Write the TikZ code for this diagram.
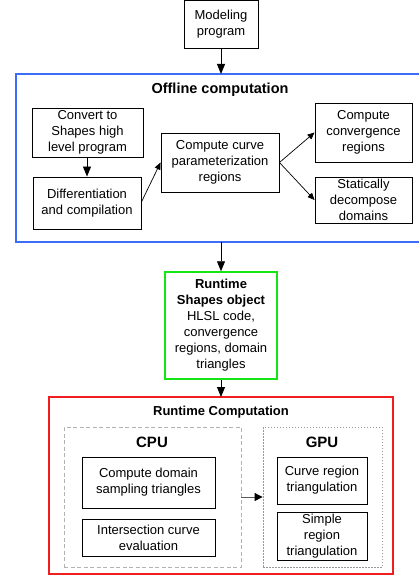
\documentclass[tikz,border=0pt]{standalone}
\usepackage{fontspec}
\setmainfont{Liberation Sans}
\usetikzlibrary{arrows.meta}
\definecolor{offblue}{RGB}{60,110,250}
\definecolor{rtgreen}{RGB}{20,230,20}
\definecolor{rtred}{RGB}{240,30,30}
\begin{document}
\begin{tikzpicture}[x=1pt,y=-1pt,
  box/.style={draw=black,line width=0.9pt,align=center,inner sep=0pt,font=\fontsize{13}{16}\selectfont},
  arr/.style={-{Triangle[length=10pt,width=8pt]},line width=0.9pt},
  sarr/.style={-{Triangle[length=7pt,width=6pt]},line width=0.7pt}]
\useasboundingbox (0,0) rectangle (419,577);
% Modeling program
\node[box,minimum width=74pt,minimum height=48pt] (mod) at (221,24.5) {Modeling\\program};
% Offline computation
\draw[offblue,line width=1.5pt] (16,74) rectangle (422,242);
\coordinate (offtop) at (221,74);
\coordinate (offbot) at (221,242);
\node[font=\bfseries\fontsize{14.5}{17}\selectfont] (offt) at (220,89.5) {Offline computation};
\node[box,minimum width=111pt,minimum height=49pt] (conv) at (87.5,132.5) {Convert to\\Shapes high\\level program};
\node[box,minimum width=108pt,minimum height=52pt] (diff) at (87,203) {Differentiation\\and compilation};
\node[box,minimum width=118pt,minimum height=59pt] (curve) at (220,162.5) {Compute curve\\parameterization\\regions};
\node[box,minimum width=97pt,minimum height=59pt] (cconv) at (363.5,132.5) {Compute\\convergence\\regions};
\node[box,minimum width=97pt,minimum height=46pt] (stat) at (363.5,200) {Statically\\decompose\\domains};
\draw[arr] (conv.south -| 87,0) -- (diff.north -| 87,0);
\draw[sarr] (diff.east) ++(0,-1) -- (curve.west);
\draw[sarr] (curve.east) -- (cconv.west);
\draw[sarr] (curve.east) -- (stat.west);
\draw[arr] (mod.south) -- (offtop);
% Runtime shapes object
\node[box,draw=rtgreen,line width=1.5pt,minimum width=112pt,minimum height=107pt] (rso) at (221,325.5) {\textbf{Runtime}\\\textbf{Shapes object}\\HLSL code,\\convergence\\regions, domain\\triangles};
\draw[arr] (offbot) -- (rso.north);
% Runtime computation
\draw[rtred,line width=1.5pt] (49,397) rectangle (393,574);
\coordinate (rctop) at (221,397);
\draw[arr] (rso.south) -- (rctop);
\node[font=\bfseries\fontsize{13}{16}\selectfont] (rct) at (221,412) {Runtime Computation};
\node[draw=black!30,dash pattern=on 4pt off 2.5pt,line width=0.9pt,minimum width=177pt,minimum height=140pt,inner sep=0pt] (cpu) at (152.5,497) {};
\node[draw=black!40,dash pattern=on 1.5pt off 1.5pt,line width=0.8pt,minimum width=119pt,minimum height=140pt,inner sep=0pt] (gpu) at (322.5,497) {};
\node[font=\bfseries\fontsize{15}{18}\selectfont] (cpul) at (152,442) {CPU};
\node[font=\bfseries\fontsize{15}{18}\selectfont] (gpul) at (322,442) {GPU};
\node[box,minimum width=133pt,minimum height=51pt] (cdom) at (148.5,482.5) {Compute domain\\sampling triangles};
\node[box,minimum width=133pt,minimum height=37pt] (inter) at (148.5,537.5) {Intersection curve\\evaluation};
\node[box,minimum width=90pt,minimum height=47pt] (creg) at (322,480.5) {Curve region\\triangulation};
\node[box,minimum width=90pt,minimum height=48pt] (sreg) at (322,536) {Simple\\region\\triangulation};
\draw[-{Triangle[length=8pt,width=8pt,color=black]},line width=0.9pt,draw=black!65] (cpu.east) -- (gpu.west);
\end{tikzpicture}
\end{document}
